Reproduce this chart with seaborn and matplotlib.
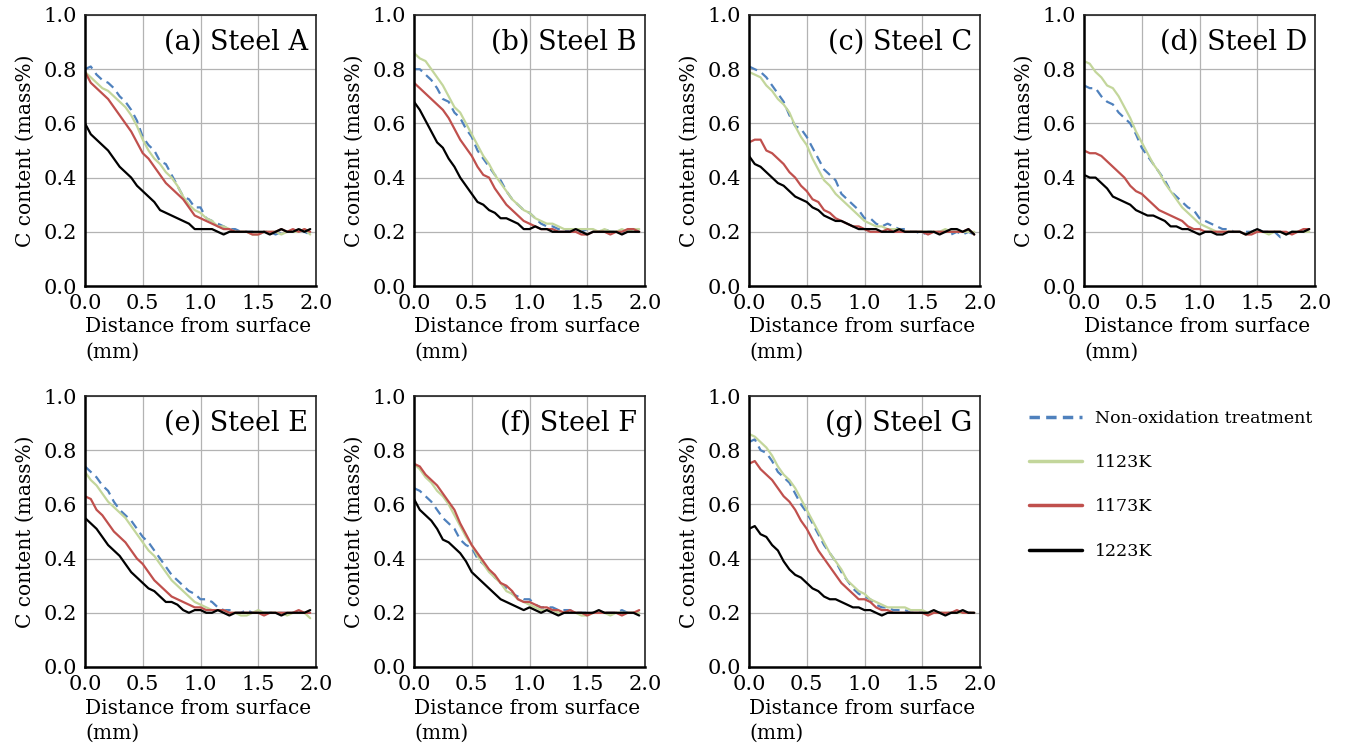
import numpy as np
import pandas as pd
import matplotlib
matplotlib.use("Agg")
import matplotlib.pyplot as plt
import seaborn as sns

sns.set_style("white")
plt.rcParams["font.family"] = ["DejaVu Serif"]
plt.rcParams["mathtext.fontset"] = "dejavuserif"
plt.rcParams["text.color"] = "black"
plt.rcParams["axes.labelcolor"] = "black"
plt.rcParams["xtick.color"] = "black"
plt.rcParams["ytick.color"] = "black"

# Distance from surface (mm), sampled every 0.05 mm
distance = [round(0.05 * i, 2) for i in range(40)]

steels = ["(a) Steel A", "(b) Steel B", "(c) Steel C", "(d) Steel D",
          "(e) Steel E", "(f) Steel F", "(g) Steel G"]
conditions = ["Non-oxidation treatment", "1123K", "1173K", "1223K"]

# Carbon content profiles (mass%) per steel, one list per condition
steel_a_nonox = [0.80, 0.81, 0.78, 0.76, 0.75, 0.73, 0.70, 0.68, 0.65, 0.61,
                 0.55, 0.52, 0.50, 0.46, 0.45, 0.41, 0.37, 0.33, 0.32, 0.29,
                 0.29, 0.25, 0.24, 0.23, 0.22, 0.21, 0.21, 0.20, 0.20, 0.20,
                 0.19, 0.20, 0.20, 0.19, 0.20, 0.20, 0.20, 0.21, 0.20, 0.19]
steel_a_1123 = [0.79, 0.77, 0.75, 0.73, 0.72, 0.70, 0.68, 0.66, 0.63, 0.59,
                0.54, 0.50, 0.47, 0.45, 0.42, 0.40, 0.37, 0.33, 0.30, 0.28,
                0.27, 0.25, 0.24, 0.22, 0.22, 0.21, 0.20, 0.20, 0.20, 0.19,
                0.19, 0.20, 0.20, 0.20, 0.19, 0.20, 0.20, 0.20, 0.21, 0.19]
steel_a_1173 = [0.79, 0.75, 0.73, 0.71, 0.69, 0.66, 0.63, 0.60, 0.57, 0.53,
                0.49, 0.47, 0.44, 0.41, 0.38, 0.36, 0.34, 0.32, 0.29, 0.26,
                0.25, 0.24, 0.23, 0.22, 0.21, 0.21, 0.20, 0.20, 0.20, 0.19,
                0.19, 0.20, 0.20, 0.20, 0.21, 0.20, 0.21, 0.20, 0.21, 0.20]
steel_a_1223 = [0.60, 0.56, 0.54, 0.52, 0.50, 0.47, 0.44, 0.42, 0.40, 0.37,
                0.35, 0.33, 0.31, 0.28, 0.27, 0.26, 0.25, 0.24, 0.23, 0.21,
                0.21, 0.21, 0.21, 0.20, 0.19, 0.20, 0.20, 0.20, 0.20, 0.20,
                0.20, 0.20, 0.19, 0.20, 0.21, 0.20, 0.20, 0.21, 0.20, 0.21]

steel_b_nonox = [0.80, 0.80, 0.78, 0.76, 0.73, 0.69, 0.68, 0.64, 0.62, 0.58,
                 0.55, 0.50, 0.47, 0.44, 0.41, 0.39, 0.35, 0.32, 0.30, 0.28,
                 0.27, 0.25, 0.23, 0.22, 0.22, 0.21, 0.21, 0.20, 0.20, 0.20,
                 0.21, 0.20, 0.20, 0.21, 0.20, 0.20, 0.20, 0.20, 0.20, 0.20]
steel_b_1123 = [0.86, 0.84, 0.83, 0.80, 0.77, 0.74, 0.70, 0.66, 0.64, 0.60,
                0.56, 0.52, 0.48, 0.45, 0.41, 0.38, 0.35, 0.32, 0.30, 0.28,
                0.27, 0.25, 0.24, 0.23, 0.23, 0.22, 0.21, 0.21, 0.21, 0.21,
                0.21, 0.21, 0.20, 0.21, 0.20, 0.20, 0.21, 0.20, 0.21, 0.21]
steel_b_1173 = [0.75, 0.73, 0.71, 0.69, 0.67, 0.65, 0.62, 0.58, 0.54, 0.51,
                0.48, 0.44, 0.41, 0.40, 0.36, 0.33, 0.30, 0.28, 0.26, 0.24,
                0.23, 0.22, 0.21, 0.21, 0.21, 0.20, 0.20, 0.20, 0.20, 0.19,
                0.19, 0.20, 0.20, 0.20, 0.19, 0.20, 0.20, 0.21, 0.21, 0.20]
steel_b_1223 = [0.68, 0.65, 0.61, 0.57, 0.53, 0.51, 0.47, 0.44, 0.40, 0.37,
                0.34, 0.31, 0.30, 0.28, 0.27, 0.25, 0.25, 0.24, 0.23, 0.21,
                0.21, 0.22, 0.21, 0.21, 0.20, 0.20, 0.20, 0.20, 0.21, 0.20,
                0.19, 0.20, 0.20, 0.20, 0.20, 0.20, 0.19, 0.20, 0.20, 0.20]

steel_c_nonox = [0.81, 0.80, 0.79, 0.77, 0.74, 0.71, 0.68, 0.63, 0.59, 0.58,
                 0.55, 0.51, 0.47, 0.43, 0.41, 0.39, 0.34, 0.32, 0.30, 0.28,
                 0.25, 0.25, 0.23, 0.22, 0.23, 0.22, 0.21, 0.21, 0.20, 0.20,
                 0.19, 0.20, 0.20, 0.20, 0.20, 0.19, 0.20, 0.19, 0.20, 0.19]
steel_c_1123 = [0.79, 0.78, 0.77, 0.74, 0.72, 0.69, 0.67, 0.64, 0.59, 0.55,
                0.52, 0.47, 0.43, 0.39, 0.37, 0.34, 0.32, 0.30, 0.28, 0.26,
                0.24, 0.23, 0.22, 0.22, 0.21, 0.21, 0.21, 0.20, 0.20, 0.20,
                0.20, 0.20, 0.20, 0.20, 0.21, 0.20, 0.20, 0.20, 0.20, 0.20]
steel_c_1173 = [0.53, 0.54, 0.54, 0.50, 0.49, 0.47, 0.45, 0.42, 0.40, 0.37,
                0.35, 0.32, 0.31, 0.28, 0.27, 0.25, 0.24, 0.23, 0.22, 0.22,
                0.21, 0.20, 0.20, 0.20, 0.21, 0.20, 0.20, 0.20, 0.20, 0.20,
                0.20, 0.19, 0.20, 0.20, 0.20, 0.20, 0.20, 0.20, 0.21, 0.19]
steel_c_1223 = [0.48, 0.45, 0.44, 0.42, 0.40, 0.38, 0.37, 0.35, 0.33, 0.32,
                0.31, 0.29, 0.28, 0.26, 0.25, 0.24, 0.24, 0.23, 0.22, 0.21,
                0.21, 0.21, 0.21, 0.20, 0.20, 0.20, 0.21, 0.20, 0.20, 0.20,
                0.20, 0.20, 0.20, 0.19, 0.20, 0.21, 0.21, 0.20, 0.21, 0.19]

steel_d_nonox = [0.74, 0.73, 0.73, 0.70, 0.68, 0.67, 0.64, 0.62, 0.60, 0.56,
                 0.51, 0.48, 0.45, 0.42, 0.39, 0.35, 0.33, 0.31, 0.29, 0.28,
                 0.25, 0.24, 0.23, 0.22, 0.21, 0.21, 0.20, 0.20, 0.20, 0.20,
                 0.21, 0.20, 0.20, 0.20, 0.18, 0.19, 0.20, 0.20, 0.20, 0.21]
steel_d_1123 = [0.83, 0.82, 0.79, 0.77, 0.74, 0.73, 0.70, 0.66, 0.62, 0.57,
                0.53, 0.49, 0.45, 0.42, 0.38, 0.35, 0.32, 0.29, 0.27, 0.25,
                0.23, 0.22, 0.21, 0.20, 0.20, 0.20, 0.20, 0.20, 0.19, 0.20,
                0.20, 0.20, 0.19, 0.20, 0.20, 0.19, 0.20, 0.20, 0.20, 0.20]
steel_d_1173 = [0.50, 0.49, 0.49, 0.48, 0.46, 0.44, 0.42, 0.40, 0.37, 0.35,
                0.34, 0.32, 0.30, 0.28, 0.27, 0.26, 0.25, 0.24, 0.22, 0.21,
                0.21, 0.20, 0.20, 0.20, 0.20, 0.20, 0.20, 0.20, 0.19, 0.19,
                0.20, 0.20, 0.20, 0.20, 0.20, 0.20, 0.19, 0.20, 0.21, 0.21]
steel_d_1223 = [0.41, 0.40, 0.40, 0.38, 0.36, 0.33, 0.32, 0.31, 0.30, 0.28,
                0.27, 0.26, 0.26, 0.25, 0.24, 0.22, 0.22, 0.21, 0.21, 0.20,
                0.19, 0.20, 0.20, 0.19, 0.19, 0.20, 0.20, 0.20, 0.19, 0.20,
                0.21, 0.20, 0.20, 0.20, 0.20, 0.19, 0.20, 0.20, 0.20, 0.21]

steel_e_nonox = [0.74, 0.72, 0.70, 0.67, 0.65, 0.61, 0.58, 0.56, 0.54, 0.51,
                 0.48, 0.46, 0.43, 0.40, 0.37, 0.34, 0.32, 0.30, 0.28, 0.27,
                 0.25, 0.25, 0.24, 0.22, 0.21, 0.21, 0.20, 0.20, 0.21, 0.20,
                 0.20, 0.20, 0.20, 0.20, 0.20, 0.20, 0.20, 0.20, 0.20, 0.20]
steel_e_1123 = [0.72, 0.69, 0.67, 0.64, 0.61, 0.59, 0.57, 0.55, 0.52, 0.49,
                0.46, 0.43, 0.41, 0.38, 0.35, 0.32, 0.30, 0.28, 0.26, 0.24,
                0.23, 0.22, 0.21, 0.21, 0.21, 0.20, 0.20, 0.19, 0.19, 0.20,
                0.21, 0.20, 0.20, 0.20, 0.20, 0.19, 0.20, 0.20, 0.20, 0.18]
steel_e_1173 = [0.63, 0.62, 0.58, 0.56, 0.53, 0.50, 0.48, 0.46, 0.43, 0.40,
                0.38, 0.35, 0.32, 0.30, 0.28, 0.26, 0.25, 0.24, 0.23, 0.22,
                0.22, 0.21, 0.21, 0.21, 0.21, 0.20, 0.20, 0.20, 0.20, 0.20,
                0.20, 0.19, 0.20, 0.20, 0.20, 0.20, 0.20, 0.21, 0.20, 0.20]
steel_e_1223 = [0.55, 0.53, 0.51, 0.48, 0.45, 0.43, 0.41, 0.38, 0.35, 0.33,
                0.31, 0.29, 0.28, 0.26, 0.24, 0.24, 0.23, 0.21, 0.20, 0.21,
                0.21, 0.20, 0.20, 0.21, 0.20, 0.19, 0.20, 0.20, 0.20, 0.20,
                0.20, 0.20, 0.20, 0.20, 0.19, 0.20, 0.20, 0.20, 0.20, 0.21]

steel_f_nonox = [0.66, 0.65, 0.63, 0.61, 0.58, 0.55, 0.53, 0.51, 0.47, 0.45,
                 0.44, 0.40, 0.38, 0.36, 0.33, 0.31, 0.29, 0.27, 0.26, 0.25,
                 0.25, 0.23, 0.22, 0.22, 0.22, 0.21, 0.21, 0.21, 0.20, 0.20,
                 0.20, 0.20, 0.20, 0.20, 0.20, 0.20, 0.21, 0.20, 0.20, 0.20]
steel_f_1123 = [0.75, 0.73, 0.70, 0.68, 0.65, 0.63, 0.60, 0.56, 0.52, 0.48,
                0.45, 0.41, 0.38, 0.35, 0.33, 0.31, 0.28, 0.27, 0.25, 0.24,
                0.23, 0.22, 0.21, 0.21, 0.21, 0.20, 0.20, 0.20, 0.20, 0.19,
                0.19, 0.20, 0.20, 0.20, 0.19, 0.20, 0.20, 0.20, 0.20, 0.20]
steel_f_1173 = [0.75, 0.74, 0.71, 0.69, 0.67, 0.64, 0.61, 0.58, 0.53, 0.49,
                0.45, 0.42, 0.39, 0.36, 0.34, 0.31, 0.30, 0.28, 0.25, 0.24,
                0.24, 0.23, 0.22, 0.22, 0.21, 0.21, 0.20, 0.21, 0.20, 0.20,
                0.19, 0.20, 0.20, 0.20, 0.20, 0.20, 0.19, 0.20, 0.20, 0.21]
steel_f_1223 = [0.62, 0.58, 0.56, 0.54, 0.51, 0.47, 0.46, 0.44, 0.42, 0.39,
                0.35, 0.33, 0.31, 0.29, 0.27, 0.25, 0.24, 0.23, 0.22, 0.21,
                0.22, 0.21, 0.20, 0.21, 0.20, 0.19, 0.20, 0.20, 0.20, 0.20,
                0.20, 0.20, 0.21, 0.20, 0.20, 0.20, 0.20, 0.20, 0.20, 0.19]

steel_g_nonox = [0.83, 0.84, 0.80, 0.79, 0.76, 0.72, 0.70, 0.68, 0.64, 0.60,
                 0.57, 0.53, 0.49, 0.45, 0.42, 0.39, 0.35, 0.32, 0.29, 0.27,
                 0.26, 0.25, 0.23, 0.22, 0.22, 0.21, 0.21, 0.21, 0.20, 0.20,
                 0.20, 0.20, 0.20, 0.20, 0.20, 0.20, 0.20, 0.20, 0.20, 0.20]
steel_g_1123 = [0.86, 0.85, 0.83, 0.81, 0.78, 0.74, 0.71, 0.69, 0.66, 0.62,
                0.58, 0.54, 0.50, 0.46, 0.42, 0.39, 0.36, 0.32, 0.30, 0.28,
                0.27, 0.25, 0.24, 0.23, 0.22, 0.22, 0.22, 0.22, 0.21, 0.21,
                0.21, 0.20, 0.20, 0.20, 0.20, 0.20, 0.20, 0.20, 0.20, 0.20]
steel_g_1173 = [0.75, 0.76, 0.73, 0.71, 0.69, 0.66, 0.63, 0.61, 0.58, 0.54,
                0.51, 0.47, 0.43, 0.40, 0.37, 0.34, 0.31, 0.29, 0.27, 0.25,
                0.25, 0.24, 0.22, 0.21, 0.21, 0.20, 0.20, 0.20, 0.20, 0.20,
                0.20, 0.19, 0.20, 0.20, 0.20, 0.20, 0.21, 0.20, 0.20, 0.20]
steel_g_1223 = [0.51, 0.52, 0.49, 0.48, 0.45, 0.43, 0.39, 0.36, 0.34, 0.33,
                0.31, 0.29, 0.28, 0.26, 0.25, 0.25, 0.24, 0.23, 0.22, 0.22,
                0.21, 0.21, 0.20, 0.19, 0.20, 0.20, 0.20, 0.20, 0.20, 0.20,
                0.20, 0.20, 0.21, 0.20, 0.19, 0.20, 0.20, 0.21, 0.20, 0.20]

profiles = {
    steels[0]: [steel_a_nonox, steel_a_1123, steel_a_1173, steel_a_1223],
    steels[1]: [steel_b_nonox, steel_b_1123, steel_b_1173, steel_b_1223],
    steels[2]: [steel_c_nonox, steel_c_1123, steel_c_1173, steel_c_1223],
    steels[3]: [steel_d_nonox, steel_d_1123, steel_d_1173, steel_d_1223],
    steels[4]: [steel_e_nonox, steel_e_1123, steel_e_1173, steel_e_1223],
    steels[5]: [steel_f_nonox, steel_f_1123, steel_f_1173, steel_f_1223],
    steels[6]: [steel_g_nonox, steel_g_1123, steel_g_1173, steel_g_1223],
}

rows = []
for steel, series in profiles.items():
    for cond, vals in zip(conditions, series):
        for d, c in zip(distance, vals):
            rows.append({"steel": steel, "condition": cond,
                         "distance": d, "carbon": c})
df = pd.DataFrame(rows)

palette = {"Non-oxidation treatment": "#4f81bd", "1123K": "#c3d69b",
           "1173K": "#c0504d", "1223K": "#000000"}
dashes = {"Non-oxidation treatment": (4, 2.5), "1123K": "", "1173K": "",
          "1223K": ""}

W, H = 1352, 753
fig = plt.figure(figsize=(W / 100, H / 100), dpi=100)

col_left = [85, 414, 749, 1084]
row_top = [15, 396]
ax_w, ax_h = 231, 271

tick_fs = 15
label_fs = 14.5
for i, steel in enumerate(steels):
    r, c = divmod(i, 4)
    left = col_left[c] / W
    bottom = 1 - (row_top[r] + ax_h) / H
    ax = fig.add_axes([left, bottom, ax_w / W, ax_h / H])
    sub = df[df["steel"] == steel]
    sns.lineplot(data=sub, x="distance", y="carbon", hue="condition",
                 style="condition", hue_order=conditions,
                 style_order=conditions, palette=palette, dashes=dashes,
                 linewidth=1.6, ax=ax, legend=False)
    ax.set_xlim(0, 2.0)
    ax.set_ylim(0, 1.0)
    ax.set_xticks([0, 0.5, 1.0, 1.5, 2.0])
    ax.set_yticks([0, 0.2, 0.4, 0.6, 0.8, 1.0])
    ax.xaxis.set_major_formatter(matplotlib.ticker.FormatStrFormatter("%.1f"))
    ax.yaxis.set_major_formatter(matplotlib.ticker.FormatStrFormatter("%.1f"))
    ax.grid(True, color="#b3b3b3", linewidth=0.9)
    ax.set_axisbelow(True)
    ax.tick_params(axis="both", length=0, pad=6, labelsize=tick_fs,
                   colors="black")
    for side in ["left", "bottom"]:
        ax.spines[side].set_color("black")
        ax.spines[side].set_linewidth(1.8)
    for side in ["top", "right"]:
        ax.spines[side].set_color("#222222")
        ax.spines[side].set_linewidth(1.2)
        ax.spines[side].set_visible(True)
    ax.set_xlabel("Distance from surface\n(mm)", fontsize=label_fs,
                  loc="left", labelpad=3, linespacing=1.4)
    ax.set_ylabel("C content (mass%)", fontsize=label_fs, labelpad=6)
    ax.text(0.965, 0.9, steel, transform=ax.transAxes, ha="right",
            va="center", fontsize=19.5)

# Shared legend in the free slot of the second row
handles = [
    matplotlib.lines.Line2D([], [], color=palette[k], linewidth=2.5,
                            linestyle=(0, (3, 1.8)) if k == conditions[0]
                            else "-")
    for k in conditions
]
fig.legend(handles, conditions, loc="upper left",
           bbox_to_anchor=(1013 / W, 1 - 394 / H), frameon=False,
           fontsize=12.5, handlelength=3.1, handletextpad=0.7,
           labelspacing=1.58)

fig.savefig("out.png", dpi=100)
